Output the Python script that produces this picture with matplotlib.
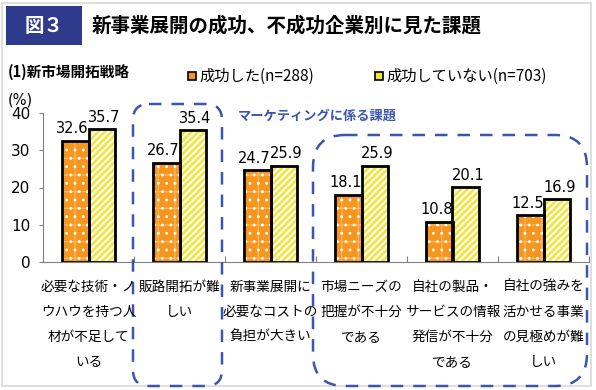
import matplotlib
matplotlib.use("Agg")
import matplotlib.pyplot as plt
import numpy as np
from matplotlib.patches import Rectangle, FancyBboxPatch
from matplotlib.transforms import Affine2D

plt.rcParams['font.family'] = ['DejaVu Sans', 'Noto Sans CJK JP']

categories = [
    "必要な技術・ノ\nウハウを持つ人\n材が不足して\nいる",
    "販路開拓が難\nしい",
    "新事業展開に\n必要なコストの\n負担が大きい",
    "市場ニーズの\n把握が不十分\nである",
    "自社の製品・\nサービスの情報\n発信が不十分\nである",
    "自社の強みを\n活かせる事業\nの見極めが難\nしい",
]
success = [32.6, 26.7, 24.7, 18.1, 10.8, 12.5]
failure = [35.7, 35.4, 25.9, 25.9, 20.1, 16.9]
series_names = ["成功した(n=288)", "成功していない(n=703)"]
yticks = [0, 10, 20, 30, 40]

W, H = 596, 390
DPI = 100
fig = plt.figure(figsize=(W / DPI, H / DPI), dpi=DPI)
fig.patch.set_facecolor("white")

# pixel transform, origin top-left
pxT = Affine2D().scale(1.0 / DPI, -1.0 / DPI).translate(0, H / DPI) + fig.dpi_scale_trans

def ptxt(x, y, s, **kw):
    fig.text(x, y, s, transform=pxT, **kw)

# outer frame
fig.patches.append(Rectangle((2, 3), 589, 383, transform=pxT, fill=False,
                             edgecolor="#d9d9d9", lw=1.2))

# title box
fig.patches.append(Rectangle((6, 6), 76, 39, transform=pxT, facecolor="#2e3a8c",
                             edgecolor="none"))
ptxt(44, 26, "図３", color="white", fontsize=14, fontweight="bold",
     ha="center", va="center", family=['Noto Sans CJK JP'])
ptxt(92, 26, "新事業展開の成功、不成功企業別に見た課題", fontsize=14,
     fontweight="bold", ha="left", va="center", family=['Noto Sans CJK JP'])

ptxt(8, 72, "(1)新市場開拓戦略", fontsize=10.5, fontweight="bold",
     ha="left", va="center", family=['Noto Sans CJK JP'])
ptxt(8, 100, "(%)", fontsize=10.5, ha="left", va="center")

orange = "#f7961e"
yellow = "#f3e43c"

# legend
for lx, col, name in [(188, orange, series_names[0]), (375, yellow, series_names[1])]:
    fig.patches.append(Rectangle((lx, 72), 8, 8, transform=pxT, facecolor=col,
                                 edgecolor="black", lw=1.2))
    ptxt(lx + 11, 76, name, fontsize=11, ha="left", va="center",
         family=['Noto Sans CJK JP', 'DejaVu Sans'])

# axes
ax = fig.add_axes([43 / W, 1 - 262 / H, (589 - 43) / W, (262 - 113) / H])
ax.set_facecolor("none")
x = np.arange(len(categories))
bw = 0.29
plt.rcParams['hatch.linewidth'] = 1.0
ax.bar(x - bw / 2, success, bw, color=orange, hatch="+", edgecolor="#fbb55e", lw=0)
plt.rcParams['hatch.linewidth'] = 0.9
ax.bar(x - bw / 2, success, bw, color="none", hatch="..", edgecolor="white", lw=0)
plt.rcParams['hatch.linewidth'] = 1.5
ax.bar(x + bw / 2, failure, bw, color=yellow, hatch="/////", edgecolor="white", lw=0)
ax.bar(x - bw / 2, success, bw, color="none", edgecolor="black", lw=2)
ax.bar(x + bw / 2, failure, bw, color="none", edgecolor="black", lw=2)

for i in range(len(categories)):
    ax.text(x[i] - bw / 2 - 0.03, success[i] + 1.2, f"{success[i]:.1f}", ha="center",
            va="bottom", fontsize=10.5)
    ax.text(x[i] + bw / 2 + 0.03, failure[i] + 1.2, f"{failure[i]:.1f}", ha="center",
            va="bottom", fontsize=10.5)

ax.set_xlim(-0.5, len(categories) - 0.5)
ax.set_ylim(0, 40)
ax.set_yticks(yticks)
ax.tick_params(axis="y", labelsize=11, length=3, width=0.8, color="#808080", pad=6)
ax.set_xticks(np.arange(len(categories) + 1) - 0.5)
ax.set_xticklabels([])
ax.tick_params(axis="x", length=4, width=0.8, color="#808080", direction="in")
for s in ["top", "right"]:
    ax.spines[s].set_visible(False)
for s in ["left", "bottom"]:
    ax.spines[s].set_color("#808080")
    ax.spines[s].set_linewidth(0.8)

# category labels (multi-line, centered)
for i, lab in enumerate(categories):
    cx = 43 + (i + 0.5) * (589 - 43) / len(categories)
    for j, line in enumerate(lab.split("\n")):
        ptxt(cx, 287 + j * 25, line, fontsize=9.8, ha="center", va="center",
             family=['Noto Sans CJK JP'])

# dashed boxes
blue = "#3a56b0"
fig.patches.append(FancyBboxPatch((133, 104), 89, 282, transform=pxT,
                                  boxstyle="round,pad=0,rounding_size=16",
                                  fill=False, edgecolor=blue, lw=1.8,
                                  linestyle=(0, (5, 4))))
fig.patches.append(FancyBboxPatch((313, 135), 274, 251, transform=pxT,
                                  boxstyle="round,pad=0,rounding_size=32",
                                  fill=False, edgecolor=blue, lw=1.8,
                                  linestyle=(0, (5, 4))))
ptxt(238, 116, "マーケティングに係る課題", fontsize=9.5, fontweight="bold",
     color=blue, ha="left", va="center", family=['Noto Sans CJK JP'])

fig.savefig("out.png", dpi=DPI)
